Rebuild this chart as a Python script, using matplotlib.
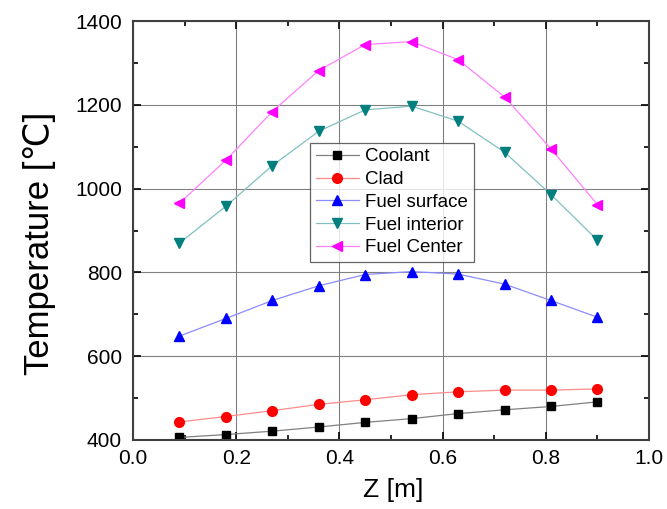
import matplotlib.pyplot as plt
from matplotlib.ticker import MultipleLocator

plt.rcParams["font.family"] = ["Liberation Sans", "DejaVu Sans"]

# Axial positions [m]
z = [0.09, 0.18, 0.27, 0.36, 0.45, 0.54, 0.63, 0.72, 0.81, 0.90]

# Temperatures [C]
coolant = [406, 413, 421, 431, 442, 451, 463, 472, 480, 491]
clad = [443, 456, 470, 485, 496, 508, 515, 519, 519, 522]
fuel_surface = [648, 690, 733, 768, 795, 802, 796, 772, 733, 693]
fuel_interior = [870, 958, 1055, 1137, 1188, 1197, 1161, 1087, 986, 877]
fuel_center = [965, 1068, 1184, 1282, 1344, 1351, 1308, 1219, 1095, 962]

series = [
    ("Coolant", coolant, "s", 6.3, "black", "#808080"),
    ("Clad", clad, "o", 7, "red", "#ff8c8c"),
    ("Fuel surface", fuel_surface, "^", 7.5, "blue", "#8c8cff"),
    ("Fuel interior", fuel_interior, "v", 7.5, "#007f7f", "#80c0c0"),
    ("Fuel Center", fuel_center, "<", 7.5, "magenta", "#ff80ff"),
]

fig = plt.figure(figsize=(6.67, 5.09), dpi=100)
ax = fig.add_axes([0.1994, 0.1356, 0.7736, 0.823])

for label, vals, mk, ms, mc, lc in series:
    ax.plot(z, vals, color=lc, linewidth=0.9, marker=mk, markersize=ms,
            markerfacecolor=mc, markeredgecolor=mc, label=label)

ax.set_xlim(0.0, 1.0)
ax.set_ylim(400, 1400)
ax.xaxis.set_major_locator(MultipleLocator(0.2))
ax.xaxis.set_minor_locator(MultipleLocator(0.1))
ax.yaxis.set_major_locator(MultipleLocator(200))
ax.yaxis.set_minor_locator(MultipleLocator(100))
ax.xaxis.set_major_formatter(plt.FuncFormatter(lambda v, p: f"{v:.1f}"))

ax.grid(True, which="major", color="#808080", linewidth=0.8)
ax.tick_params(which="both", direction="in", top=True, right=True,
               labelsize=15, width=1.2)
ax.tick_params(axis="x", which="major", pad=6.5)
ax.tick_params(axis="y", which="major", pad=8)
ax.tick_params(which="major", length=6)
ax.tick_params(which="minor", length=3.5)
for s in ax.spines.values():
    s.set_linewidth(1.5)
    s.set_color("#404040")

ax.set_xlabel("Z [m]", fontsize=19)
ax.set_ylabel("Temperature [℃]", fontsize=25)
ax.xaxis.set_label_coords(0.504, -0.09)
ax.yaxis.set_label_coords(-0.15, 0.47)

leg = ax.legend(loc="upper left", bbox_to_anchor=(0.343, 0.7096), fontsize=13.5,
                frameon=True, fancybox=False, edgecolor="#404040",
                borderpad=0.3, labelspacing=0.3, handlelength=2.3,
                handletextpad=0.35, borderaxespad=0)
leg.get_frame().set_linewidth(0.9)

fig.savefig("out.png", dpi=100)
